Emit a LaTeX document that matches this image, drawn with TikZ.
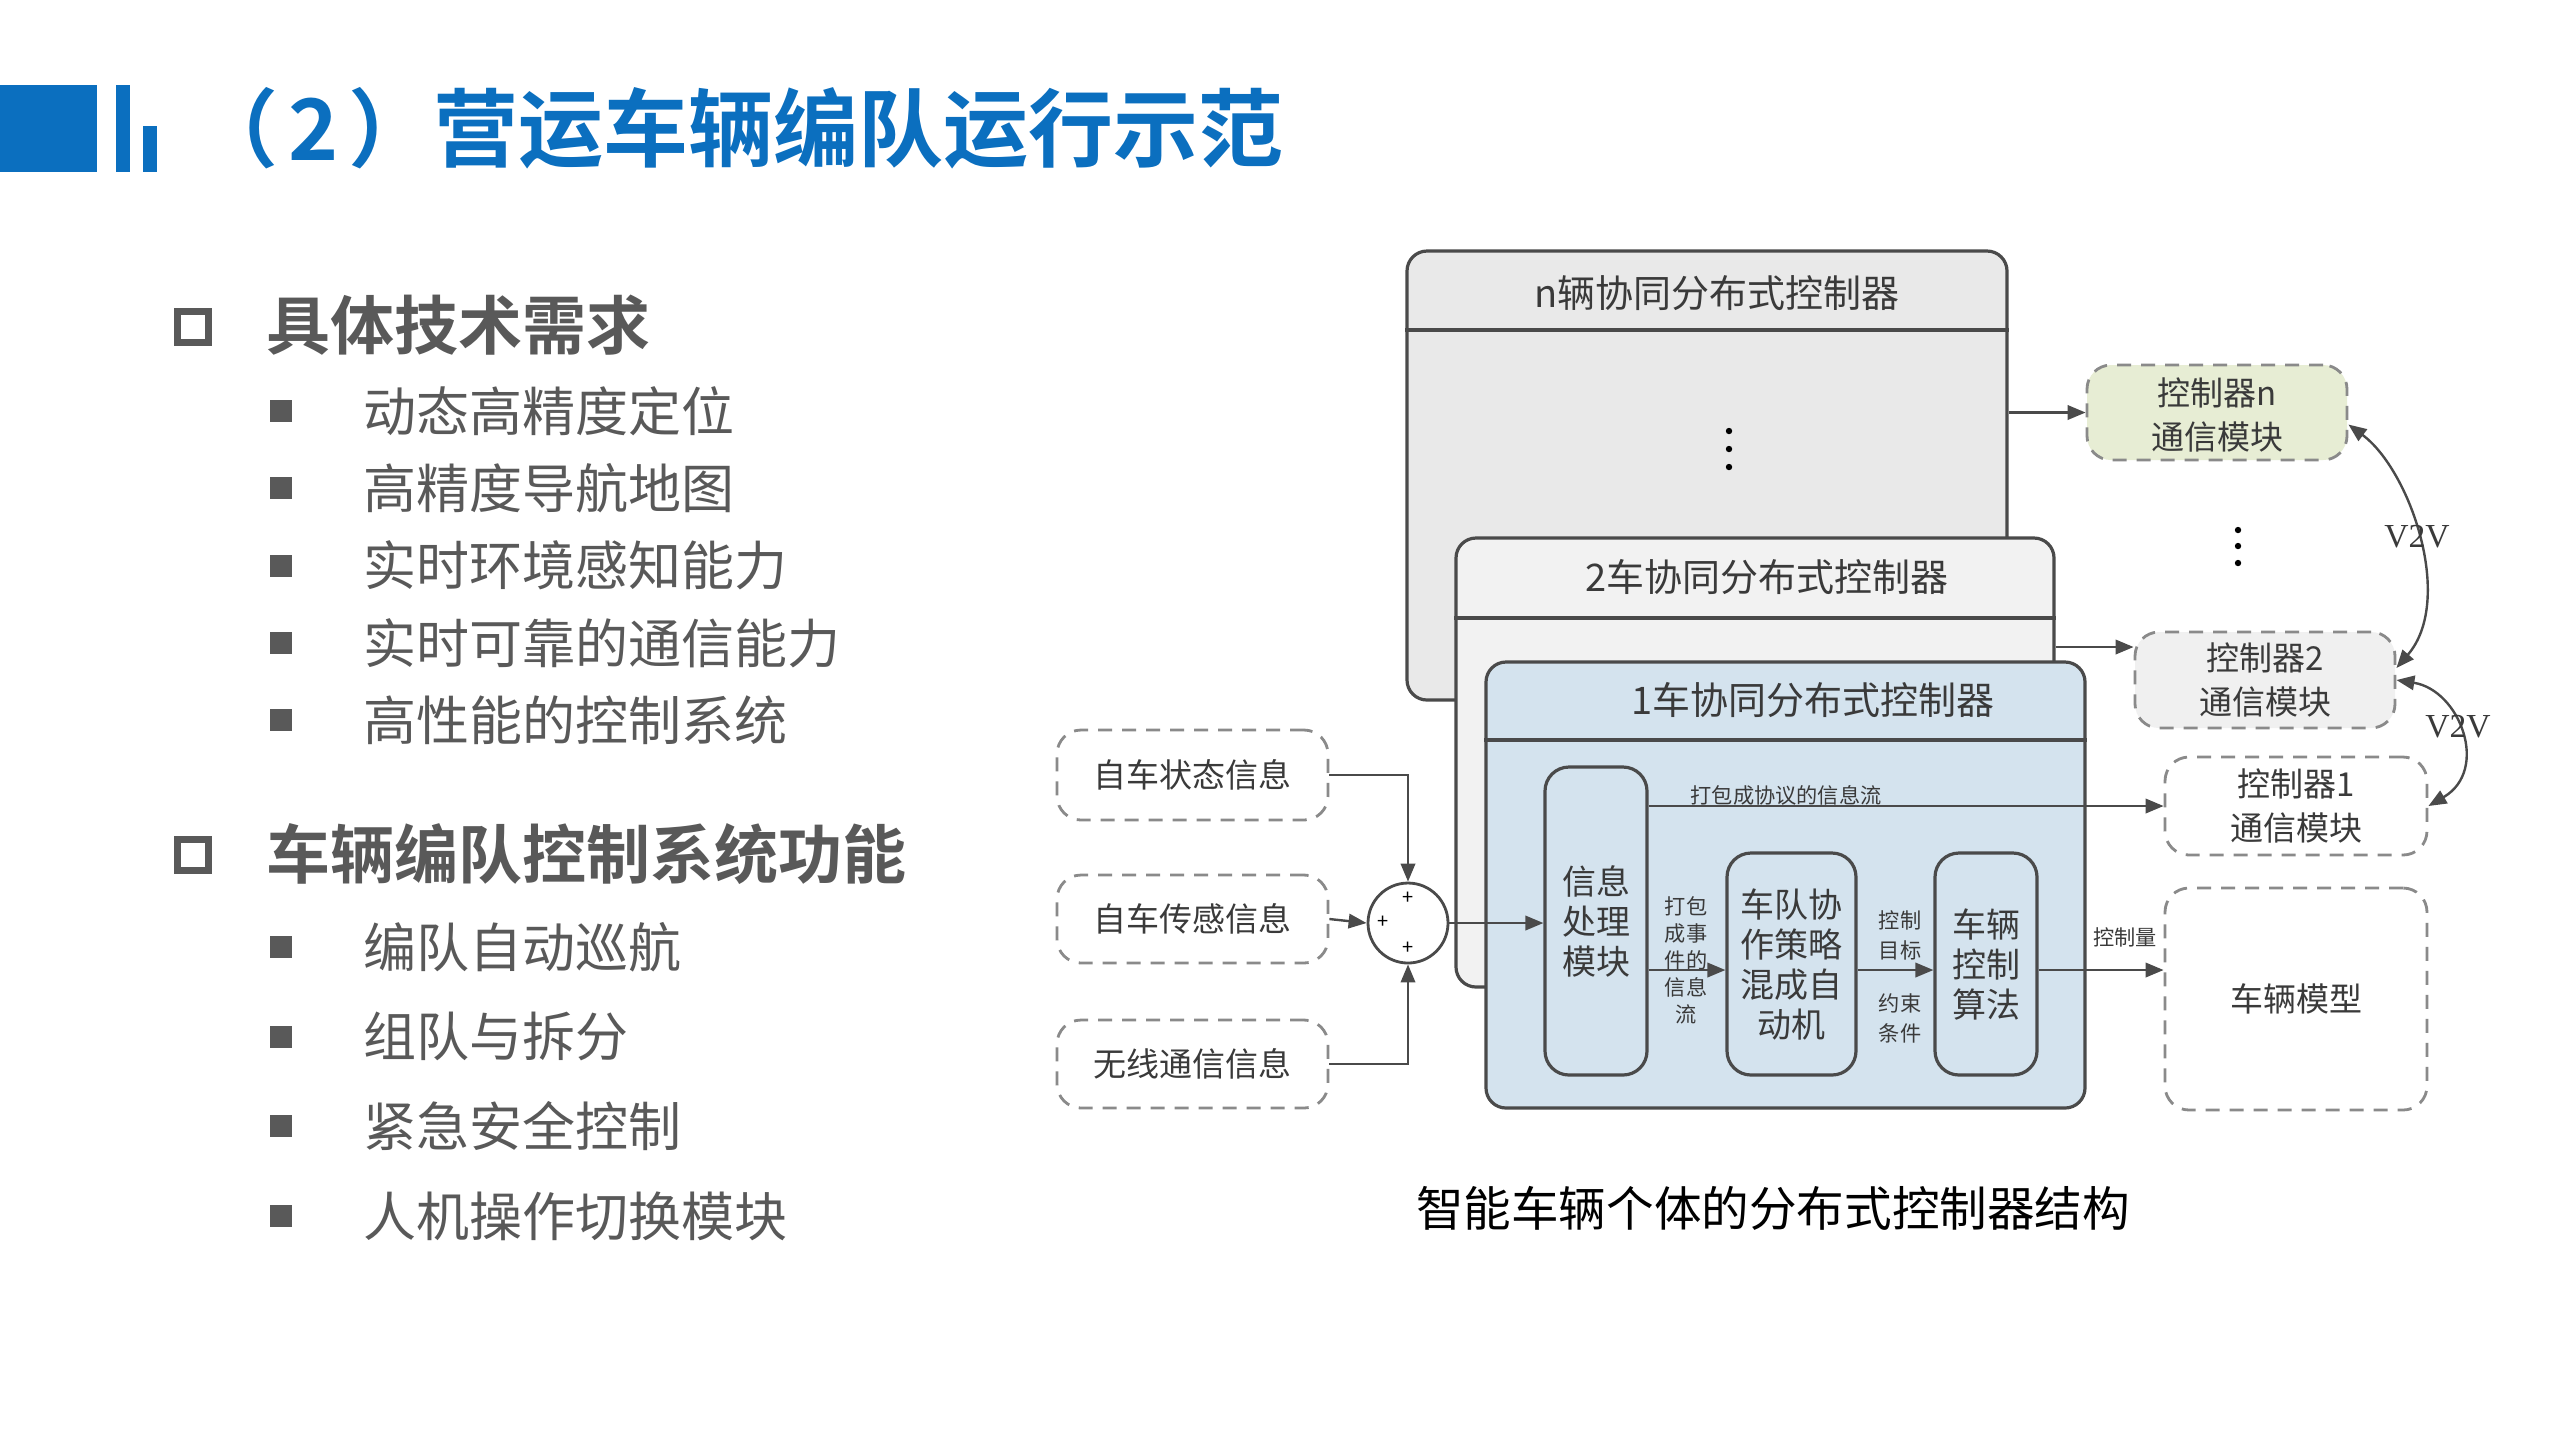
\documentclass[tikz,border=0pt]{standalone}
\usepackage{fontspec}
\setmainfont{Noto Sans CJK SC}[BoldFont={* Bold}]
\newfontfamily\timesfont{Liberation Serif}
\usepackage{tikz}
\usetikzlibrary{arrows.meta, fit, positioning}

\definecolor{titleblue}{HTML}{0B6FBF}
\definecolor{textgray}{HTML}{595959}
\definecolor{linegray}{HTML}{4A4A4A}
\definecolor{dashgray}{HTML}{8A8A8A}
\definecolor{labelgray}{HTML}{3A3A3A}
\definecolor{nfill}{HTML}{E9E9E9}
\definecolor{twofill}{HTML}{F2F2F2}
\definecolor{onefill}{HTML}{D4E3EE}
\definecolor{greenfill}{HTML}{E7EDD4}
\definecolor{grayfill}{HTML}{F0F0F0}

\newcommand{\fs}[2]{\fontsize{#1}{#2}\selectfont}

\begin{document}
\begin{tikzpicture}[x=0.25pt, y=-0.25pt,
  head/.style={anchor=west, inner sep=0pt, text=textgray, font=\fs{16}{18}\bfseries},
  item/.style={anchor=west, inner sep=0pt, text=textgray, font=\fs{13.25}{15}},
  hollowsq/.style={draw=textgray, line width=1.75pt, minimum size=7.75pt, inner sep=0pt},
  dotsq/.style={fill=textgray, minimum size=5.5pt, inner sep=0pt},
  panel/.style={draw=linegray, line width=0.8pt, rounded corners=5pt, inner sep=0pt},
  inbox/.style={draw=linegray, line width=0.8pt, rounded corners=6pt, inner sep=0pt},
  dashbox/.style={draw=dashgray, line width=0.7pt, dash pattern=on 3.5pt off 2.5pt,
    rounded corners=6pt, inner sep=0pt},
  intext/.style={inner sep=0pt, align=center, text=labelgray, font=\fs{8.5}{10}},
  boxtext/.style={inner sep=0pt, align=center, text=labelgray, font=\fs{8.25}{11}},
  boxtitle/.style={text=labelgray, font=\fs{9.5}{11}},
  small/.style={inner sep=0pt, align=center, text=labelgray, font=\fs{5.3}{6.75}},
  arr/.style={draw=linegray, line width=0.6pt, -{Triangle[length=4.5pt,width=3.6pt]}},
  v2v/.style={draw=linegray, line width=0.6pt,
    {Triangle[length=4.5pt,width=3.6pt]}-{Triangle[length=4.5pt,width=3.6pt]}}]

  \useasboundingbox (0,0) rectangle (2560,1440);
  \fill[white] (0,0) rectangle (2560,1440);

  % title bar
  \fill[titleblue] (0,85) rectangle (97,172);
  \fill[titleblue] (116,85) rectangle (130,172);
  \fill[titleblue] (143,126) rectangle (157,172);
  \node[anchor=west, inner sep=0pt, text=titleblue, font=\fs{21.25}{24}\bfseries] (title) at (193,128)
    {（\hspace{2.5pt}2\hspace{2.5pt}）营运车辆编队运行示范};

  % left list
  \node[hollowsq] (sq1) at (193,327) {};
  \node[head] (head1) at (266,325) {具体技术需求};
  \foreach \txt [count=\i] in {动态高精度定位, 高精度导航地图, 实时环境感知能力, 实时可靠的通信能力, 高性能的控制系统} {
    \node[dotsq] (da\i) at (281, {411+(\i-1)*77.3}) {};
    \node[item] (ia\i) at (363, {411+(\i-1)*77.3}) {\txt};
  }
  \node[hollowsq] (sq2) at (193,855) {};
  \node[head] (head2) at (266,854) {车辆编队控制系统功能};
  \foreach \txt [count=\i] in {编队自动巡航, 组队与拆分, 紧急安全控制, 人机操作切换模块} {
    \node[dotsq] (db\i) at (281, {947+(\i-1)*89.7}) {};
    \node[item] (ib\i) at (363, {947+(\i-1)*89.7}) {\txt};
  }

  % stacked controllers
  \node[panel, fill=nfill, fit={(1407,251)(2007,700)}] (nbox) {};
  \draw[linegray, line width=0.8pt] (nbox.west |- 0,330) -- (nbox.east |- 0,330);
  \node[boxtitle] (ntitle) at (1717,293) {n辆协同分布式控制器};
  \foreach \d in {431,449,467} \fill[black] (1729,\d) circle (0.8pt);

  \node[panel, fill=twofill, fit={(1456,538)(2054,987)}] (box2) {};
  \draw[linegray, line width=0.8pt] (box2.west |- 0,618) -- (box2.east |- 0,618);
  \node[boxtitle] (twotitle) at (1767,577) {2车协同分布式控制器};

  \node[panel, fill=onefill, fit={(1486,662)(2085,1108)}] (box1) {};
  \draw[linegray, line width=0.8pt] (box1.west |- 0,740) -- (box1.east |- 0,740);
  \node[boxtitle] (onetitle) at (1813,700) {1车协同分布式控制器};

  % inner blocks
  \node[inbox, fit={(1545,767)(1647,1075)}] (info) {};
  \node[intext] (infoT) at (info) {信息\\处理\\模块};
  \node[inbox, fit={(1727,853)(1856,1075)}] (team) {};
  \node[intext] (teamT) at (team) {车队协\\作策略\\混成自\\动机};
  \node[inbox, fit={(1935,853)(2037,1075)}] (alg) {};
  \node[intext] (algT) at (alg) {车辆\\控制\\算法};

  % communication modules
  \node[dashbox, fill=greenfill, fit={(2087,365)(2347,460)}] (ctrln) {};
  \node[boxtext] (ctrlnT) at ([yshift=-0.6pt]ctrln) {控制器n\\通信模块};
  \node[dashbox, fill=grayfill, fit={(2135,632)(2395,728)}] (ctrl2) {};
  \node[boxtext] (ctrl2T) at (ctrl2) {控制器2\\通信模块};
  \node[dashbox, fit={(2165,757)(2427,855)}] (ctrl1) {};
  \node[boxtext] (ctrl1T) at (ctrl1) {控制器1\\通信模块};
  \node[dashbox, fit={(2165,888)(2427,1110)}] (model) {};
  \node[boxtext] (modelT) at (model) {车辆模型};
  \foreach \d in {530,546,563} \fill[black] (2238,\d) circle (0.8pt);

  % inputs
  \node[dashbox, fit={(1057,730)(1328,820)}] (state) {};
  \node[boxtext] (stateT) at (state) {自车状态信息};
  \node[dashbox, fit={(1057,875)(1328,963)}] (sense) {};
  \node[boxtext] (senseT) at (sense) {自车传感信息};
  \node[dashbox, fit={(1057,1020)(1328,1108)}] (radio) {};
  \node[boxtext] (radioT) at (radio) {无线通信信息};
  \node[circle, draw=linegray, line width=0.7pt, fill=white, minimum size=20pt, inner sep=0pt] (sum) at (1408,923) {};
  \node[inner sep=0pt, font=\fs{5}{5}] (p1) at (1408,898) {+};
  \node[inner sep=0pt, font=\fs{5}{5}] (p2) at (1383,922) {+};
  \node[inner sep=0pt, font=\fs{5}{5}] (p3) at (1408,948) {+};

  % connectors
  \draw[arr] (state.east) -| (sum.north);
  \draw[arr] (sense.east) -- (sum.west);
  \draw[arr] (radio.east) -| (sum.south);
  \draw[arr] (sum.east) -- (info.west |- sum.east);

  \draw[arr] (info.east |- 0,970) -- (team.west |- 0,970);
  \node[small] (lab2) at (1686,960) {打包\\成事\\件的\\信息\\流};
  \draw[arr] (team.east |- 0,970) -- (alg.west |- 0,970);
  \node[small, font=\fs{5.3}{7.5}] (lab3) at (1900,935) {控制\\目标};
  \node[small, font=\fs{5.3}{7.5}] (lab4) at (1900,1018) {约束\\条件};
  \draw[arr] (info.east |- ctrl1.west) -- (ctrl1.west);
  \node[small] (lab1) at (1786,795) {打包成协议的信息流};
  \draw[arr] (alg.east |- 0,970) -- (model.west |- 0,970);
  \node[small] (lab5) at (2125,937) {控制量};

  \draw[arr] (nbox.east |- ctrln.west) -- (ctrln.west);
  \draw[arr] (box2.east |- 0,647) -- (ctrl2.west |- 0,647);

  % V2V links
  \draw[v2v] ([yshift=-3pt]ctrln.east) .. controls (2410,470) and (2455,600) .. ([yshift=3pt]ctrl2.east);
  \draw[v2v] (ctrl2.east) .. controls (2460,690) and (2490,770) .. (ctrl1.east);
  \node[text=labelgray, font=\timesfont\fs{8.4}{10}] (v2va) at (2417,537) {V2V};
  \node[text=labelgray, font=\timesfont\fs{8.4}{10}] (v2vb) at (2458,727) {V2V};

  % caption
  \node[font=\fs{11.9}{14}, text=black] (caption) at (1773,1208) {智能车辆个体的分布式控制器结构};
\end{tikzpicture}
\end{document}
